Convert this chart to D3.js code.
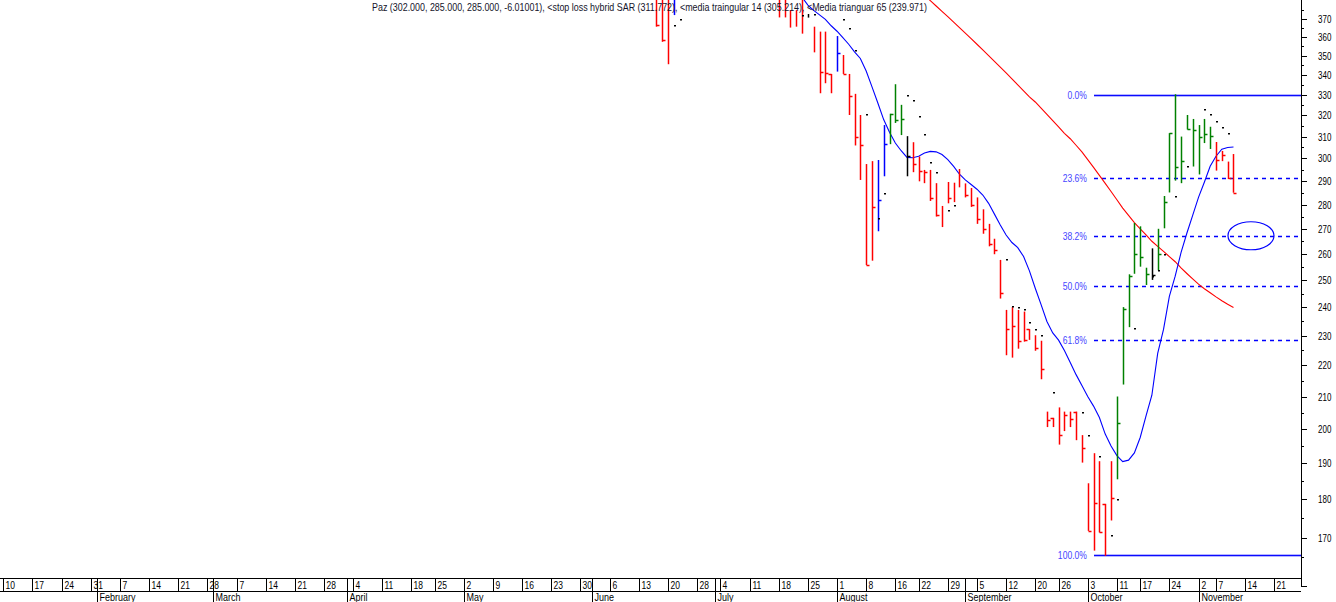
<!DOCTYPE html>
<html><head><meta charset="utf-8">
<script src="https://cdn.jsdelivr.net/npm/d3@7"></script>
<style>
body{margin:0;background:#fff;}
svg{display:block;font-family:"Liberation Sans",Arial,sans-serif;}
</style>
</head><body>
<svg id="c" width="1336" height="602"></svg>
<script>
// ---------------- DATA ----------------
const holidays = ["2005-04-21","2005-06-27","2005-08-15","2005-09-19","2005-10-10","2005-10-31","2005-11-01"];
const calendarStart = "2005-01-03";
const calendarEnd = "2005-11-30";
const firstBarDate = "2005-06-16";
// one entry per trading day from firstBarDate; null = not visible (above chart)
const barHigh = [385,385,385,385,
  null,null,null,null,null,null,null,null,null,null,null,null,null,null,null,null,null,
  385,385,374.7,374.7,385,372.5,365.5,362.8,362.8,340.5,360.4,350.3,340.5,330.5,320.2,297.5,298.8,299.3,315.4,320.8,
  335.3,325.1,310.2,307.4,300.9,294.9,294.9,289.1,279.4,289.6,289.3,295.3,
  289,287,283,278,272,266,257.7,239.1,240.1,239.1,238.5,232.3,230.2,228.3,205.3,203.4,206.6,205.3,205.3,205.3,198.2,
  184.4,192.9,190.6,178.8,190.6,210.0,240.1,252.2,272.4,271.0,254.7,262.2,270.0,283.6,311.6,330.3,310.0,320.2,318.3,315.4,318.3,314.6,
  307.5,303.4,298.6,302];
const barLow = [365.5,357.3,345.5,371.9,
  null,null,null,null,null,null,null,null,null,null,null,null,null,null,null,null,null,
  370.6,370.6,365,365.5,361.7,370.5,351.7,330.8,335.8,330.8,341.7,340.5,320.2,305.9,290.5,255.7,257.4,269.0,292.1,306.5,
  316.4,310.7,292.1,293.9,289.9,289.1,281.5,275.0,270.7,280.5,281.0,287.3,
  283,279,272,268,263,259.9,243.2,223.4,222.6,225.6,228.0,228.6,224.9,215.5,200.6,200.6,195.4,199.4,200.6,196.7,190.2,
  171.7,166.7,171.3,165.4,174.4,185.5,213.8,233.0,252.4,255.1,248.2,250.1,253.7,270.2,285.1,290.2,289.1,313.3,296.4,292.9,307.0,304.3,
  294.6,298.8,290.9,285];
const barOpen = [null,null,null,null,
  null,null,null,null,null,null,null,null,null,null,null,null,null,null,null,null,null,
  null,null,null,null,null,null,null,null,null,340.5,null,null,null,null,null,null,null,null,null,null,
  null,null,null,null,null,null,null,null,null,null,null,null,
  null,null,null,null,null,null,null,null,null,null,null,232.3,null,null,null,203.4,null,null,null,205.3,null,
  null,null,null,178.8,null,null,null,null,null,null,null,null,null,null,null,null,null,null,null,null,null,null,
  null,null,null,null];
const barClose = [366.5,358.5,null,null,
  null,null,null,null,null,null,null,null,null,null,null,null,null,null,null,null,null,
  null,null,null,null,null,null,null,341.7,340.8,null,351.2,340.5,329.2,309.8,305.9,255.7,278.8,281.9,306.5,320.8,
  317.6,318.2,300.9,297.5,294.3,293.9,282.6,275.6,null,282.6,null,null,
  284,280,274,270,264,261.4,245.3,232.2,233.3,228.3,228.6,null,225.8,218.8,202.6,null,198.2,204.2,202.9,null,194.5,
  171.7,179.0,171.5,null,180.3,201.7,239.4,251.6,259.9,258.9,252.2,251.9,259.9,281.1,311.6,296.4,299.0,313.5,313.1,310.0,311.3,310.3,
  299.3,301.6,291.2,285];
const barColor = ["r","r","r","b",
  null,null,null,null,null,null,null,null,null,null,null,null,null,null,null,null,null,
  "r","r","r","r","r","k","r","r","r","r","b","r","r","r","r","r","r","b","b","g",
  "g","g","k","r","r","r","r","r","r","r","r","r",
  "r","r","r","r","r","r","r","r","r","r","r","r","r","r","r","r","r","r","r","r","r",
  "r","r","r","r","r","g","g","g","g","g","g","k","g","g","g","g","g","g","g","g","g","g",
  "r","r","r","r"];
// stop loss hybrid SAR (one entry per trading day from sarStartDate)
const sarStartDate = "2005-06-21";
const sarValues = [366.4,370,null,null,null,null,null,null,null,null,null,null,null,null,null,null,null,null,null,null,null,null,
  371.9,null,372.4,null,null,null,null,370,365,353,null,320.8,null,274.4,285,null,null,null,330,327.5,319.9,311,298.6,294,null,277.8,279.6,
  null,null,null,null,null,null,null,null,258.2,240.5,240.3,239.6,234.8,232.3,230.2,null,211.3,null,null,null,null,205.3,198.2,null,192.2,null,170.6,180.1,
  null,null,232.7,null,null,251.4,253.7,260.0,null,283.8,null,296.6,null,null,323.3,320.5,317.5,314.4,311.8];
// media triangular 14
const ma14StartDate = "2005-07-22";
const ma14 = [382,377.5,374.5,372,369.5,366,363,359.5,356,352,348.5,342,334,326,318,312,307,303.5,300.5,300.3,301,302.5,303.2,303,301.8,299.5,296.5,293,
  290.5,288.5,286.5,284,280.5,276,271.5,267.5,264.5,262.5,259,253.5,247,241,235,231,228.5,225,221,217,213.5,210,207,203.5,198.5,195,192.2,190.5,190.9,193,197.5,204,210.4,
  224,232.2,244,251.5,260.5,268.2,275.5,283,289.5,296.5,301,304.2,305,305.2];
// media triangular 65
const ma65StartDate = "2005-08-23";
const ma65 = [383,380,377,374,371,368,365,362,359,356,353,350,347,344,341,338,335,332,329,326.5,323.5,320.5,317.5,314.5,311.5,309,306,303,
  299.5,296,292.5,289,285.5,282,278.5,275.5,272.5,270,267.5,265,263,261,259,257,254.6,252.5,250.5,248.5,246.8,245.3,243.8,242.4,241.1,240];
// Fibonacci retracement
const fibHigh = 330, fibLow = 165.6;
const fibRatios = [0, 0.236, 0.382, 0.5, 0.618, 1];
const fibLabels = ["0.0%","23.6%","38.2%","50.0%","61.8%","100.0%"];
const fibStartDate = "2005-10-04";
const ellipseDate = "2005-11-15", ellipseLevel = 0.382;
// axis
const yTicksMajor = [170,180,190,200,210,220,230,240,250,260,270,280,290,300,310,320,330,340,350,360,370];
const yTicksMinor = [165,175,185,195,205,215,225,235,245,255,265,275,285,295,305,315,325,335,345,355,365,375];
const monthNames = ["January","February","March","April","May","June","July","August","September","October","November","December"];
const titleText = "Paz (302.000, 285.000, 285.000, -6.01001), <stop loss hybrid SAR (311.772), <media traingular 14 (305.214), <Media trianguar  65 (239.971)";

// ---------------- CHART ----------------
const svg = d3.select("#c");
const parse = d3.timeParse("%Y-%m-%d"), fmt = d3.timeFormat("%Y-%m-%d");
const hol = new Set(holidays);
const days = d3.timeDay.range(parse(calendarStart), parse(calendarEnd))
  .filter(d => d.getDay() > 0 && d.getDay() < 6 && !hol.has(fmt(d)));
const idxOf = s => days.findIndex(d => fmt(d) === s);

const plotR = 1301, plotB = 578;
const x = d3.scaleLinear().domain([idxOf("2005-01-10"), idxOf("2005-11-21")]).range([3.3, 1274.3]);
const y = d3.scaleLog().domain([160, 380.4]).range([plotB, 0]);
const colors = {r:"#ff0000", g:"#008000", b:"#0000ff", k:"#000000"};

svg.append("rect").attr("width",1336).attr("height",602).attr("fill","#fff");
svg.append("defs").append("clipPath").attr("id","clip")
  .append("rect").attr("x",0).attr("y",0).attr("width",plotR).attr("height",plotB);
const plot = svg.append("g").attr("clip-path","url(#clip)");

function ctext(g, tx, ty, str, size, sx, anchor, fill){
  return g.append("text").attr("transform",`translate(${tx},${ty}) scale(${sx},1)`)
    .attr("font-size",size).attr("text-anchor",anchor||"start").attr("fill",fill||"#000").text(str);
}

// title
svg.append("text").attr("x",372).attr("y",10.5).attr("font-size",11).attr("fill","#14142a")
  .attr("textLength",555).attr("lengthAdjust","spacingAndGlyphs").text(titleText);

// fib lines
const fibStartX = Math.round(x(idxOf(fibStartDate)));
const fibVals = fibRatios.map(r => fibHigh - r*(fibHigh-fibLow));
fibVals.forEach((v,k) => {
  const yy = Math.round(y(v));
  const solid = (fibRatios[k] === 0 || fibRatios[k] === 1);
  if (solid) {
    plot.append("rect").attr("x",fibStartX).attr("y",yy-0.3).attr("width",plotR-fibStartX).attr("height",1.6)
      .attr("fill","#0a0aff");
  } else {
    plot.append("line").attr("x1",fibStartX).attr("x2",plotR).attr("y1",yy+0.5).attr("y2",yy+0.5)
      .attr("stroke","#0000ff").attr("stroke-width",1.3).attr("stroke-dasharray","4,4");
  }
  ctext(svg, fibStartX-7, yy+4, fibLabels[k], 10, 0.86, "end", "#4646ff");
});
// ellipse
plot.append("ellipse").attr("cx", x(idxOf(ellipseDate))).attr("cy", y(fibHigh - ellipseLevel*(fibHigh-fibLow)))
  .attr("rx",23).attr("ry",14).attr("fill","none").attr("stroke","#0000ff").attr("stroke-width",1.2);

// MA lines
function maLine(start, vals, color){
  const i0 = idxOf(start);
  const pts = vals.map((v,k)=>[x(i0+k), y(v)]);
  plot.append("path").attr("d", d3.line()(pts)).attr("fill","none").attr("stroke",color).attr("stroke-width",1.1);
}
maLine(ma65StartDate, ma65, "#ff0000");
maLine(ma14StartDate, ma14, "#0000ff");

// bars
const b0 = idxOf(firstBarDate);
barHigh.forEach((h,k) => {
  if (h == null) return;
  const xi = Math.round(x(b0+k)) + 0.5;
  const c = colors[barColor[k]];
  const g = plot.append("g").attr("stroke",c).attr("stroke-width",1.5);
  g.append("line").attr("x1",xi).attr("x2",xi).attr("y1",y(h)).attr("y2",y(barLow[k]));
  if (barOpen[k] != null) g.append("line").attr("x1",xi-3).attr("x2",xi).attr("y1",Math.round(y(barOpen[k]))+0.5).attr("y2",Math.round(y(barOpen[k]))+0.5);
  if (barClose[k] != null) g.append("line").attr("x1",xi).attr("x2",xi+3).attr("y1",Math.round(y(barClose[k]))+0.5).attr("y2",Math.round(y(barClose[k]))+0.5);
});

// SAR dots
const s0 = idxOf(sarStartDate);
sarValues.forEach((v,k) => {
  if (v == null) return;
  plot.append("rect").attr("x", Math.round(x(s0+k))).attr("y", Math.round(y(v))).attr("width",2).attr("height",1.5).attr("fill","#000");
});

// right axis
const ax = svg.append("g").attr("shape-rendering","crispEdges");
ax.append("line").attr("x1",plotR+0.5).attr("x2",plotR+0.5).attr("y1",0).attr("y2",587).attr("stroke","#000");
yTicksMajor.forEach(v => {
  const yy = Math.round(y(v))+0.5;
  ax.append("line").attr("x1",plotR).attr("x2",plotR+6).attr("y1",yy).attr("y2",yy).attr("stroke","#000");
  ctext(ax, 1318, yy+3.5, String(v), 10, 0.8, "start", "#000");
});
yTicksMinor.forEach(v => {
  const yy = Math.round(y(v))+0.5;
  ax.append("line").attr("x1",plotR).attr("x2",plotR+3).attr("y1",yy).attr("y2",yy).attr("stroke","#000");
});
ax.append("line").attr("x1",plotR).attr("x2",plotR+6).attr("y1",586.5).attr("y2",586.5).attr("stroke","#000");

// bottom axis
const bx = svg.append("g").attr("shape-rendering","crispEdges");
bx.append("line").attr("x1",0).attr("x2",plotR).attr("y1",578.5).attr("y2",578.5).attr("stroke","#000");
bx.append("line").attr("x1",0).attr("x2",plotR).attr("y1",591.5).attr("y2",591.5).attr("stroke","#000");
days.forEach((d,i) => {
  const xi = Math.round(x(i)) + 0.5;
  if (xi < 0 || xi > plotR) return;
  const prev = days[i-1];
  const newWeek = !prev || d3.timeMonday.floor(prev).getTime() !== d3.timeMonday.floor(d).getTime();
  const newMonth = !prev || prev.getMonth() !== d.getMonth();
  if (newMonth) {
    bx.append("line").attr("x1",xi).attr("x2",xi).attr("y1",579).attr("y2",602).attr("stroke","#000");
    ctext(bx, xi+2, 600.5, monthNames[d.getMonth()], 10, 0.9, "start", "#000");
  }
  if (newWeek) {
    if (!newMonth) bx.append("line").attr("x1",xi).attr("x2",xi).attr("y1",579).attr("y2",591).attr("stroke","#000");
    ctext(bx, xi+2, 589, String(d.getDate()), 10, 0.85, "start", "#000");
  }
});
</script>
</body></html>
